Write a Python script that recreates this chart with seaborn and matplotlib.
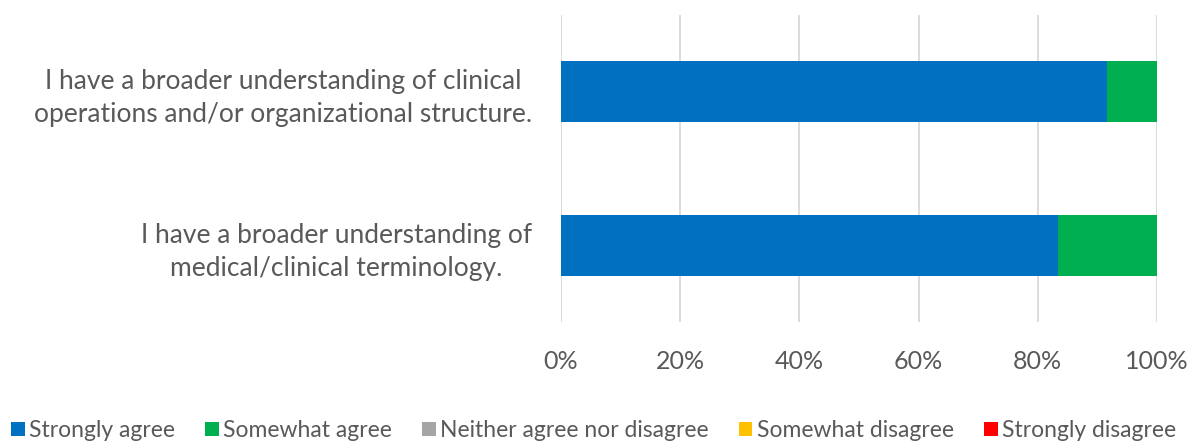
import matplotlib
matplotlib.use("Agg")
import matplotlib.pyplot as plt
import seaborn as sns
import pandas as pd
import numpy as np
from matplotlib.patches import Patch
from matplotlib.ticker import PercentFormatter

categories = [
    "I have a broader understanding of clinical\noperations and/or organizational structure.",
    "I have a broader understanding of\nmedical/clinical terminology.",
]
series_names = ["Strongly agree", "Somewhat agree", "Neither agree nor disagree",
                "Somewhat disagree", "Strongly disagree"]
strongly_agree = [0.9167, 0.8333]
somewhat_agree = [0.0833, 0.1667]
neither = [0.0, 0.0]
somewhat_disagree = [0.0, 0.0]
strongly_disagree = [0.0, 0.0]
colors = ["#0070C0", "#00B050", "#A5A5A5", "#FFC000", "#FF0000"]
tick_values = [0, 0.2, 0.4, 0.6, 0.8, 1.0]

sns.set_theme(style="white")
plt.rcParams['font.family'] = ['Lato', 'DejaVu Sans']
text_color = "#595959"

values = np.array([strongly_agree, somewhat_agree, neither, somewhat_disagree, strongly_disagree])
cum = np.cumsum(values, axis=0)

fig = plt.figure(figsize=(11.87, 4.42), dpi=100)
ax = fig.add_axes([561/1187, 1-322/442, (1157-561)/1187, (322-15)/442])

for i in reversed(range(len(series_names))):
    df = pd.DataFrame({"cat": categories, "val": cum[i]})
    sns.barplot(data=df, x="val", y="cat", orient="h", color=colors[i],
                width=0.4, ax=ax, saturation=1, linewidth=0)

ax.set_xlim(0, 1)
ax.set_ylim(1.5, -0.5)
ax.set_xticks(tick_values)
ax.xaxis.set_major_formatter(PercentFormatter(1.0, decimals=0))
ax.grid(axis="x", color="#D9D9D9", linewidth=1.3)
ax.set_axisbelow(True)
for s in ax.spines.values():
    s.set_visible(False)
ax.set_xlabel("")
ax.set_ylabel("")
ax.tick_params(axis="x", length=0, pad=20, labelsize=18, labelcolor=text_color)
ax.tick_params(axis="y", length=0, pad=21, labelsize=19, labelcolor=text_color)
for lbl in ax.get_yticklabels():
    lbl.set_multialignment("center")
    lbl.set_linespacing(1.4)

handles = [Patch(facecolor=c, edgecolor="none") for c in colors]
fig.legend(handles, series_names, loc="lower center", bbox_to_anchor=(0.5, -0.045),
           ncol=5, frameon=False, fontsize=16.5, labelcolor=text_color,
           handlelength=0.6, handleheight=0.6, handletextpad=0.2, columnspacing=1.3)

fig.savefig("out.png", dpi=100)
